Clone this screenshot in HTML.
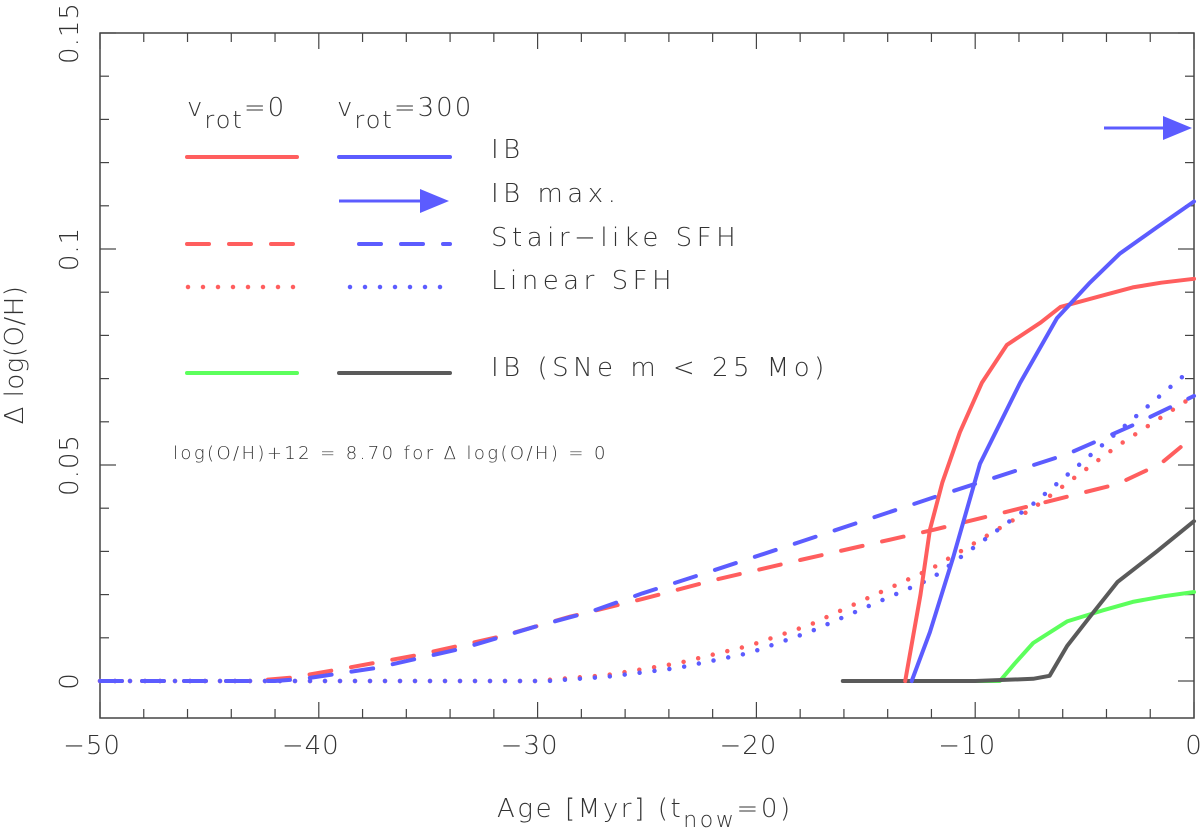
<!DOCTYPE html>
<html><head><meta charset="utf-8"><style>
body{margin:0;background:#fff}
svg{display:block;font-family:"DejaVu Sans","Liberation Sans",sans-serif}
text{fill:#333;font-weight:200}
</style></head><body>
<svg id="chart" width="1200" height="839" viewBox="0 0 1200 839">
<g id="axes"></g>
<g id="series"></g>
<g id="legend">
<text x="187" y="116" font-size="26" letter-spacing="2">v<tspan font-size="24" dy="12">rot</tspan><tspan dy="-12">=0</tspan></text>
<text x="337" y="116" font-size="26" letter-spacing="2">v<tspan font-size="24" dy="12">rot</tspan><tspan dy="-12">=300</tspan></text>
<line x1="187" y1="157" x2="297" y2="157" stroke="#ff5e5e" stroke-width="4" stroke-linecap="round"/>
<line x1="339" y1="157" x2="450" y2="157" stroke="#5c5cff" stroke-width="4" stroke-linecap="round"/>
<line x1="339" y1="201" x2="425" y2="201" stroke="#5c5cff" stroke-width="3"/>
<polygon points="420,189 449,201 420,213" fill="#5c5cff"/>
<line x1="187" y1="244" x2="297" y2="244" stroke="#ff5e5e" stroke-width="4" stroke-linecap="round" stroke-dasharray="22 20"/>
<line x1="359" y1="244" x2="450" y2="244" stroke="#5c5cff" stroke-width="4" stroke-linecap="round" stroke-dasharray="22 20"/>
<line x1="188" y1="287" x2="296" y2="287" stroke="#ff5e5e" stroke-width="4.5" stroke-linecap="round" stroke-dasharray="0 15"/>
<line x1="350" y1="287" x2="443" y2="287" stroke="#5c5cff" stroke-width="4.5" stroke-linecap="round" stroke-dasharray="0 15"/>
<line x1="187" y1="373" x2="297" y2="373" stroke="#5cff5c" stroke-width="4" stroke-linecap="round"/>
<line x1="339" y1="373" x2="450" y2="373" stroke="#5a5a5a" stroke-width="4" stroke-linecap="round"/>
<text x="491" y="158" font-size="26" letter-spacing="4.5">IB</text>
<text x="491" y="202" font-size="26" letter-spacing="4.5">IB max.</text>
<text x="491" y="246" font-size="26" letter-spacing="4.5">Stair−like SFH</text>
<text x="491" y="289" font-size="26" letter-spacing="4.5">Linear SFH</text>
<text x="491" y="376" font-size="26" letter-spacing="4.5">IB (SNe m &lt; 25 Mo)</text>
<text x="173" y="459" font-size="18" letter-spacing="2.4">log(O/H)+12 = 8.70 for Δ log(O/H) = 0</text>
</g>
<line x1="1104" y1="128" x2="1170" y2="128" stroke="#5c5cff" stroke-width="3"/>
<polygon points="1163,116 1192,128 1163,140" fill="#5c5cff"/>
<text x="497" y="817" font-size="26" letter-spacing="2.6">Age [Myr] (t<tspan font-size="22" dy="10">now</tspan><tspan dy="-10">=0)</tspan></text>
<text transform="translate(23,355) rotate(-90)" font-size="26" letter-spacing="0.5" text-anchor="middle">Δ log(O/H)</text>
</svg>
<script>
const xTicks=[-50,-40,-30,-20,-10,0];
const yTicks=[0,0.05,0.1,0.15];
const yTickLabels=["0","0.05","0.1","0.15"];
const ibRedAge=[-13.2,-12.5,-12.07,-11.5,-10.7,-9.7,-8.55,-7,-6.1,-4,-2.8,-1.5,0];
const ibRedVal=[0,0.02,0.035,0.046,0.0576,0.069,0.0778,0.083,0.0866,0.0895,0.0911,0.0922,0.0931];
const ibBlueAge=[-12.9,-12.07,-11,-9.78,-7.95,-6.26,-4.8,-3.4,-1.7,0];
const ibBlueVal=[0,0.0113,0.0287,0.0503,0.069,0.084,0.092,0.0989,0.105,0.111];
const greenAge=[-13,-8.87,-8.2,-7.35,-5.8,-4.2,-2.8,-1.4,0];
const greenVal=[0,0,0.004,0.0088,0.0138,0.0163,0.0183,0.0196,0.0206];
const grayAge=[-16.05,-10,-7.35,-6.6,-5.8,-4.6,-3.5,-1.7,0];
const grayVal=[0,0,0.0005,0.0012,0.0081,0.0159,0.0229,0.030,0.037];
const stairRedAge=[-50,-43.1,-41.2,-38.4,-35.5,-31.7,-28.5,-25.2,-21.9,-18,-11.9,-7.35,-3.5,-1.55,0];
const stairRedVal=[0,0,0.0008,0.0033,0.006,0.0103,0.0149,0.019,0.0234,0.028,0.035,0.0407,0.0456,0.0502,0.0567];
const stairBlueAge=[-50,-42,-40.7,-37.4,-33.4,-30.1,-27.6,-25.2,-21.9,-18,-11.6,-5.8,-2.8,0];
const stairBlueVal=[0,0,0.0005,0.003,0.0076,0.0126,0.016,0.0203,0.0257,0.0322,0.043,0.0525,0.0592,0.066];
const linRedAge=[-50,-30.1,-26.8,-23.6,-20.3,-17.55,-12,-7.35,-3.5,0];
const linRedVal=[0,0,0.0014,0.0041,0.0082,0.013,0.026,0.040,0.0544,0.066];
const linBlueAge=[-50,-29.5,-26.8,-23.6,-20.3,-17.55,-12,-7.35,-3.5,-0.33];
const linBlueVal=[0,0,0.001,0.003,0.0065,0.0114,0.0237,0.041,0.0576,0.0713];

const X0=100,X1=1194,Y0=681,YT=33;
const xs=a=>X0+(a+50)*(X1-X0)/50;
const ys=v=>Y0-v*(Y0-YT)/0.15;
const NS="http://www.w3.org/2000/svg";
const axes=document.getElementById('axes'),series=document.getElementById('series');
function mk(tag,attrs,parent){const e=document.createElementNS(NS,tag);for(const k in attrs)e.setAttribute(k,attrs[k]);parent.appendChild(e);return e;}
const frame=mk('rect',{x:X0,y:YT,width:X1-X0,height:718-YT,fill:'none',stroke:'#444','stroke-width':1.5},axes);


for(let a=-50;a<=0;a+=2){const major=a%10===0;const L=major?16:9;
 const t1=mk('line',{x1:xs(a),x2:xs(a),y1:718,y2:718-L,stroke:'#444','stroke-width':1.2},axes);
 
 
 const t2=mk('line',{x1:xs(a),x2:xs(a),y1:YT,y2:YT+L,stroke:'#444','stroke-width':1.2},axes);
 
 }
for(let i=0;i<=15;i++){const v=i*0.01;const major=i%5===0;const L=major?16:9;
 const t1=mk('line',{x1:X0,x2:X0+L,y1:ys(v),y2:ys(v),stroke:'#444','stroke-width':1.2},axes);
 
 
 const t2=mk('line',{x1:X1-L,x2:X1,y1:ys(v),y2:ys(v),stroke:'#444','stroke-width':1.2},axes);
 
 }
xTicks.forEach(a=>{const t=mk('text',{x:xs(a)-(a<0?8:0),y:754,'font-size':26,'text-anchor':'middle','letter-spacing':1},axes);t.textContent=a<0?'−'+(-a):String(a);
 
 });
yTicks.forEach((v,i)=>{const t=mk('text',{transform:`translate(78,${ys(v)}) rotate(-90)`,'font-size':26,'text-anchor':'middle','letter-spacing':1},axes);t.textContent=yTickLabels[i];
 
 });
function path(ages,vals,color,dash,name,w){const d=ages.map((a,i)=>(i?'L':'M')+xs(a).toFixed(1)+','+ys(vals[i]).toFixed(1)).join('');
 const p=mk('path',{d,fill:'none',stroke:color,'stroke-width':w||4,'stroke-linecap':'round','stroke-linejoin':'round'},series);
 if(dash)p.setAttribute('stroke-dasharray',dash);
 
 }
path(linRedAge,linRedVal,'#ff5e5e','0 15','linear-sfh-vrot0',4.5);
path(linBlueAge,linBlueVal,'#5c5cff','0 15','linear-sfh-vrot300',4.5);
path(stairRedAge,stairRedVal,'#ff5e5e','22 20','stair-sfh-vrot0');
path(stairBlueAge,stairBlueVal,'#5c5cff','22 20','stair-sfh-vrot300');
path(greenAge,greenVal,'#5cff5c',null,'ib-sne-vrot0');
path(grayAge,grayVal,'#5a5a5a',null,'ib-sne-vrot300');
path(ibRedAge,ibRedVal,'#ff5e5e',null,'ib-vrot0');
path(ibBlueAge,ibBlueVal,'#5c5cff',null,'ib-vrot300');
</script>
</body></html>
